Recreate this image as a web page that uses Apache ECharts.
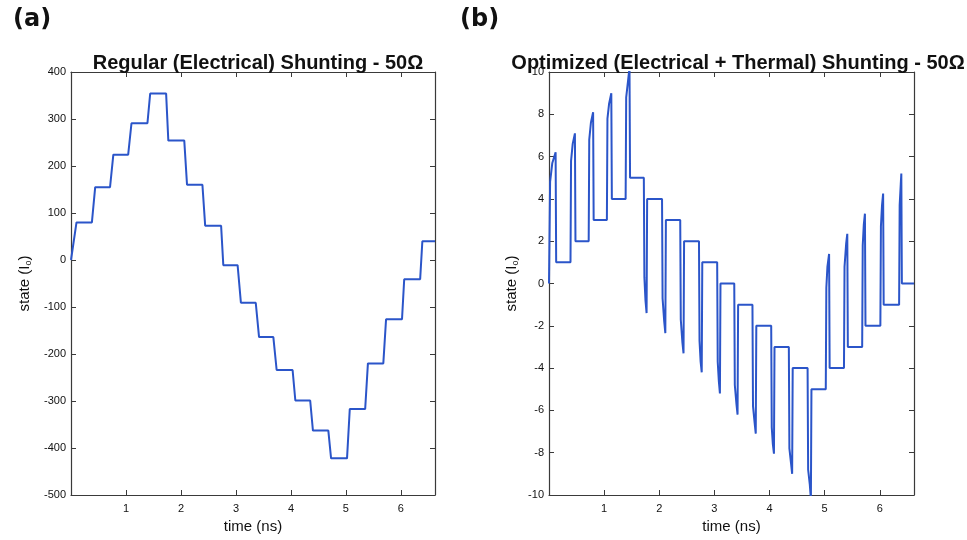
<!DOCTYPE html>
<html>
<head>
<meta charset="utf-8">
<script src="https://cdn.jsdelivr.net/npm/echarts@6/dist/echarts.min.js"></script>
<style>html,body{margin:0;padding:0;background:#fff}#c{width:967px;height:540px}</style>
</head>
<body>
<div id="c"></div>
<script>
// Panel (a): regular shunting
const leftTime  = [0, 0.10, 0.38, 0.44, 0.71, 0.77, 1.04, 1.10, 1.39, 1.44, 1.73, 1.77, 2.06, 2.11, 2.39, 2.44, 2.73, 2.77, 3.03, 3.09, 3.36, 3.42, 3.68, 3.74, 4.03, 4.08, 4.35, 4.40, 4.68, 4.73, 5.02, 5.07, 5.35, 5.40, 5.68, 5.73, 6.02, 6.06, 6.35, 6.39, 6.62];
const leftState = [0, 80, 80, 155, 155, 224, 224, 291, 291, 354, 354, 254, 254, 160, 160, 73, 73, -11, -11, -91, -91, -164, -164, -234, -234, -299, -299, -363, -363, -422, -422, -317, -317, -220, -220, -126, -126, -41, -41, 40, 40];

// Panel (b): optimized shunting
const rightTime = [
  0, 0.02, 0.06, 0.12, 0.13, 0.39,
  0.40, 0.43, 0.47, 0.48, 0.72,
  0.73, 0.76, 0.80, 0.81, 1.05,
  1.06, 1.09, 1.13, 1.14, 1.39,
  1.40, 1.43, 1.46, 1.47, 1.72,
  1.73, 1.75, 1.77, 1.78, 2.05,
  2.06, 2.09, 2.11, 2.12, 2.38,
  2.39, 2.42, 2.44, 2.45, 2.72,
  2.73, 2.75, 2.77, 2.78, 3.05,
  3.06, 3.08, 3.10, 3.11, 3.36,
  3.37, 3.40, 3.42, 3.43, 3.69,
  3.70, 3.73, 3.75, 3.76, 4.03,
  4.04, 4.06, 4.08, 4.09, 4.35,
  4.36, 4.39, 4.41, 4.42, 4.69,
  4.70, 4.73, 4.75, 4.76, 5.02,
  5.03, 5.05, 5.08, 5.09, 5.35,
  5.36, 5.39, 5.41, 5.42, 5.68,
  5.69, 5.71, 5.73, 5.74, 6.01,
  6.02, 6.04, 6.06, 6.07, 6.35,
  6.36, 6.38, 6.39, 6.40, 6.62
];
const rightState = [
  0, 4.8, 5.7, 6.2, 1, 1,
  5.8, 6.6, 7.1, 2, 2,
  6.8, 7.6, 8.1, 3, 3,
  7.8, 8.5, 9.0, 4, 4,
  8.8, 9.5, 10.2, 5, 5,
  0.3, -0.8, -1.4, 4, 4,
  -0.7, -1.8, -2.35, 3, 3,
  -1.7, -2.8, -3.3, 2, 2,
  -2.7, -3.7, -4.2, 1, 1,
  -3.7, -4.6, -5.2, 0, 0,
  -4.8, -5.7, -6.2, -1, -1,
  -5.8, -6.6, -7.1, -2, -2,
  -6.8, -7.6, -8.05, -3, -3,
  -7.8, -8.5, -9.0, -4, -4,
  -8.8, -9.5, -10.2, -5, -5,
  -0.2, 0.8, 1.4, -4, -4,
  0.8, 1.9, 2.35, -3, -3,
  1.8, 2.8, 3.3, -2, -2,
  2.7, 3.7, 4.25, -1, -1,
  3.7, 4.7, 5.2, 0, 0
];

const xTicks = [1, 2, 3, 4, 5, 6];
const titleA = 'Regular (Electrical) Shunting - 50Ω';
const titleB = 'Optimized (Electrical + Thermal) Shunting - 50Ω';
const xName = 'time (ns)';
const yName = 'state (I{sub|o})';

const FONT = 'Liberation Sans, Arial, sans-serif';
const AX = '#3a3a3a';
const LINE = '#2b55c9';

function xAx(grid, pos, showLabel, name) {
  return {
    type: 'value', gridIndex: grid, position: pos, min: 0, max: 6.62, interval: 1,
    name: name || '', nameLocation: 'middle', nameGap: 24,
    nameTextStyle: { fontFamily: FONT, fontSize: 15, color: '#111' },
    axisLine: { show: true, onZero: false, lineStyle: { color: AX, width: 1.2 } },
    axisTick: { show: true, inside: true, length: 5, lineStyle: { color: AX } },
    axisLabel: { show: showLabel, showMinLabel: false, showMaxLabel: false, margin: 8,
      fontFamily: FONT, fontSize: 11, color: '#111',
      formatter: v => xTicks.includes(Math.round(v)) && Math.abs(v - Math.round(v)) < 1e-6 ? String(Math.round(v)) : '' },
    splitLine: { show: false }
  };
}
function yAx(grid, pos, showLabel, min, max, interval, name, gap) {
  return {
    type: 'value', gridIndex: grid, position: pos, min: min, max: max, interval: interval,
    name: name || '', nameLocation: 'middle', nameGap: gap || 30,
    nameTextStyle: { fontFamily: FONT, fontSize: 15, color: '#111',
      rich: { sub: { fontFamily: FONT, fontSize: 9, color: '#111', verticalAlign: 'bottom', padding: [8, 0, 0, 0] } } },
    axisLine: { show: true, onZero: false, lineStyle: { color: AX, width: 1.2 } },
    axisTick: { show: true, inside: true, length: 5, lineStyle: { color: AX } },
    axisLabel: { show: showLabel, margin: 5, fontFamily: FONT, fontSize: 11, color: '#111' },
    splitLine: { show: false }
  };
}

const chart = echarts.init(document.getElementById('c'));
chart.setOption({
  animation: false,
  backgroundColor: '#fff',
  title: [
    { text: '(a)', left: 8, top: 3, textStyle: { fontFamily: 'DejaVu Sans', fontWeight: 'bold', fontSize: 24, color: '#111' } },
    { text: '(b)', left: 455, top: 3, textStyle: { fontFamily: 'DejaVu Sans', fontWeight: 'bold', fontSize: 24, color: '#111' } },
    { text: titleA, left: 253, textAlign: 'center', top: 48, textStyle: { fontFamily: FONT, fontWeight: 'bold', fontSize: 20, color: '#111' } },
    { text: titleB, left: 733, textAlign: 'center', top: 48, textStyle: { fontFamily: FONT, fontWeight: 'bold', fontSize: 20, color: '#111' } }
  ],
  grid: [
    { left: 71, top: 72, width: 364, height: 423 },
    { left: 549, top: 72, width: 365, height: 423 }
  ],
  xAxis: [
    xAx(0, 'bottom', true, xName),
    xAx(1, 'bottom', true, xName),
    xAx(0, 'top', false),
    xAx(1, 'top', false)
  ],
  yAxis: [
    yAx(0, 'left', true, -500, 400, 100, yName, 38),
    yAx(1, 'left', true, -10, 10, 2, yName, 29),
    yAx(0, 'right', false, -500, 400, 100),
    yAx(1, 'right', false, -10, 10, 2)
  ],
  series: [
    { type: 'line', xAxisIndex: 0, yAxisIndex: 0, showSymbol: false, clip: true,
      lineStyle: { color: LINE, width: 2 },
      data: leftTime.map((t, i) => [t, leftState[i]]) },
    { type: 'line', xAxisIndex: 1, yAxisIndex: 1, showSymbol: false, clip: true,
      lineStyle: { color: LINE, width: 2 },
      data: rightTime.map((t, i) => [t, rightState[i]]) }
  ]
});
</script>
</body>
</html>
